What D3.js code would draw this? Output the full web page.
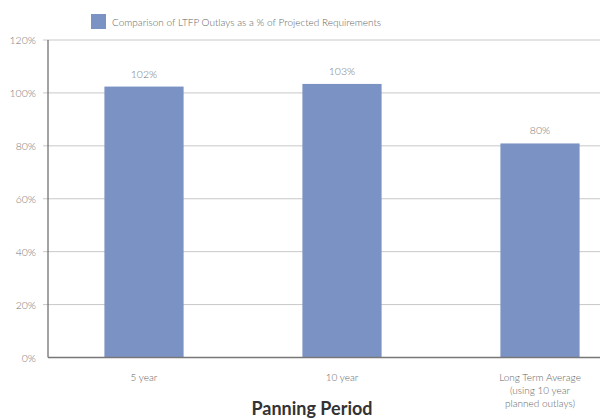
<!DOCTYPE html>
<html><head><meta charset="utf-8">
<script src="https://cdn.jsdelivr.net/npm/d3@7"></script>
<style>body{margin:0;background:#fff}svg{display:block}</style>
</head><body>
<svg id="c" width="600" height="418"></svg>
<script>
const categories = [["5 year"], ["10 year"], ["Long Term Average", "(using 10 year", "planned outlays)"]];
const values = [102.4, 103.4, 80.9];
const valueLabels = ["102%", "103%", "80%"];
const yTicks = [0, 20, 40, 60, 80, 100, 120];
const seriesName = "Comparison of LTFP Outlays as a % of Projected Requirements";
const xTitle = "Panning Period";

const svg = d3.select("#c");
const font = "Lato, 'Open Sans', sans-serif";
const barColor = "#7b93c4";
const x = d3.scaleBand().domain(d3.range(categories.length)).range([45, 639]).paddingInner(0.6).paddingOuter(0.3);
const y = d3.scaleLinear().domain([0, 120]).range([357.5, 40]);

// gridlines
svg.append("g").selectAll("line").data(yTicks.filter(d => d > 0)).join("line")
  .attr("x1", 43).attr("x2", 600).attr("y1", d => y(d)).attr("y2", d => y(d))
  .attr("stroke", "#c8c8c8").attr("stroke-width", 1);

// y labels
svg.append("g").selectAll("text").data(yTicks).join("text")
  .attr("x", 36).attr("y", d => y(d) + 4).attr("text-anchor", "end")
  .attr("font-family", font).attr("font-weight", 300).attr("font-size", 10.5).attr("fill", "#777")
  .text(d => d + "%");

// bars
svg.append("g").selectAll("rect").data(values).join("rect")
  .attr("x", (d, i) => x(i)).attr("width", x.bandwidth())
  .attr("y", d => y(d)).attr("height", d => y(0) - y(d)).attr("fill", barColor);

// value labels
svg.append("g").selectAll("text").data(values).join("text")
  .attr("x", (d, i) => x(i) + x.bandwidth() / 2).attr("y", d => y(d) - 9)
  .attr("text-anchor", "middle").attr("font-family", font).attr("font-weight", 300)
  .attr("font-size", 10.5).attr("fill", "#777").text((d, i) => valueLabels[i]);

// axes lines
svg.append("line").attr("x1", 48).attr("x2", 48).attr("y1", 40).attr("y2", y(0))
  .attr("stroke", "#666").attr("stroke-width", 1.2);
svg.append("line").attr("x1", 48).attr("x2", 600).attr("y1", y(0)).attr("y2", y(0))
  .attr("stroke", "#777").attr("stroke-width", 1.5);

// category labels
const cg = svg.append("g").selectAll("text").data(categories).join("text")
  .attr("text-anchor", "middle").attr("font-family", font).attr("font-weight", 300)
  .attr("font-size", 10).attr("fill", "#666");
cg.each(function(lines, i) {
  d3.select(this).selectAll("tspan").data(lines).join("tspan")
    .attr("x", x(i) + x.bandwidth() / 2).attr("y", (l, j) => 381 + j * 13).text(l => l);
});

// x title
svg.append("text").attr("x", 312).attr("y", 415).attr("text-anchor", "middle")
  .attr("font-family", font).attr("font-weight", 700).attr("font-size", 18).attr("fill", "#333")
  .text(xTitle);

// legend
svg.append("rect").attr("x", 91).attr("y", 14).attr("width", 15).attr("height", 15).attr("fill", barColor);
svg.append("text").attr("x", 112).attr("y", 25.5).attr("font-family", font).attr("font-weight", 300)
  .attr("font-size", 10).attr("fill", "#666").text(seriesName);
</script>
</body></html>
